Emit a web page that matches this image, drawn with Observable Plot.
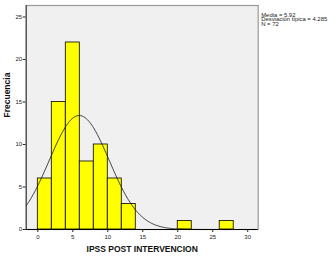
<!DOCTYPE html>
<html>
<head>
<meta charset="utf-8">
<script src="https://cdn.jsdelivr.net/npm/d3@7"></script>
<script src="https://cdn.jsdelivr.net/npm/@observablehq/plot@0.6"></script>
<style>
  html, body { margin: 0; padding: 0; background: #fff; }
  svg { font-family: "Liberation Sans", Arial, sans-serif; }
</style>
</head>
<body>
<div id="chart"></div>
<script>
// Histogram bins (width 2) and frequencies
const binStart = [0, 2, 4, 6, 8, 10, 12, 20, 26];
const binEnd   = [2, 4, 6, 8, 10, 12, 14, 22, 28];
const freq     = [6, 15, 22, 8, 10, 6, 3, 1, 1];
const xTicks = [0, 5, 10, 15, 20, 25, 30];
const yTicks = [0, 5, 10, 15, 20, 25];
const mean = 5.92;
const sd = 4.285;
const n = 72;
const binWidth = 2;
const statsLines = ["Media = 5.92", "Desviación típica = 4.285", "N = 72"];
const xLabel = "IPSS POST INTERVENCION";
const yLabel = "Frecuencia";

const xDomain = [-1.66, 31.5];
const yDomain = [0, 26.35];

const bars = binStart.map((s, i) => ({x1: s, x2: binEnd[i], y: freq[i]}));

// fitted normal curve defined by the stated mean, sd and N
const curve = d3.range(0, 301).map(i => {
  const x = xDomain[0] + (xDomain[1] - xDomain[0]) * i / 300;
  const z = (x - mean) / sd;
  return {x, y: n * binWidth * Math.exp(-0.5 * z * z) / (sd * Math.sqrt(2 * Math.PI))};
});

const chart = Plot.plot({
  width: 329,
  height: 259,
  marginLeft: 25.7,
  marginRight: 71.3,
  marginTop: 5,
  marginBottom: 30,
  style: {fontSize: "6px", color: "#222", background: "#fff"},
  x: {domain: xDomain, ticks: xTicks, tickSize: 3, tickPadding: 2, label: null},
  y: {domain: yDomain, ticks: yTicks, tickSize: 3, tickPadding: 1, label: null},
  marks: [
    Plot.frame({fill: "#f0f0f0", stroke: "#9a9a9a", strokeWidth: 1.2}),
    Plot.rectY(bars, {x1: "x1", x2: "x2", y: "y", fill: "#ffff00", stroke: "#000", strokeWidth: 0.8}),
    Plot.line(curve, {x: "x", y: "y", stroke: "#111", strokeWidth: 0.8, clip: true}),
    Plot.ruleX([xDomain[0]], {stroke: "#333", strokeWidth: 1}),
    Plot.ruleY([0], {stroke: "#000", strokeWidth: 1}),
    Plot.text([statsLines.join("\n")], {frameAnchor: "top-right", textAnchor: "start", lineAnchor: "top",
      dx: 3, dy: 8.3, fontSize: 5.9, lineHeight: 0.76, fill: "#222"}),
    Plot.text([yLabel], {frameAnchor: "left", rotate: -90, dx: -19, fontSize: 8.5, fontWeight: "bold", fill: "#111"}),
    Plot.text([xLabel], {frameAnchor: "bottom", dy: 20, lineAnchor: "middle", fontSize: 8.5, fontWeight: "bold", fill: "#111"})
  ]
});
document.getElementById("chart").appendChild(chart);
</script>
</body>
</html>
